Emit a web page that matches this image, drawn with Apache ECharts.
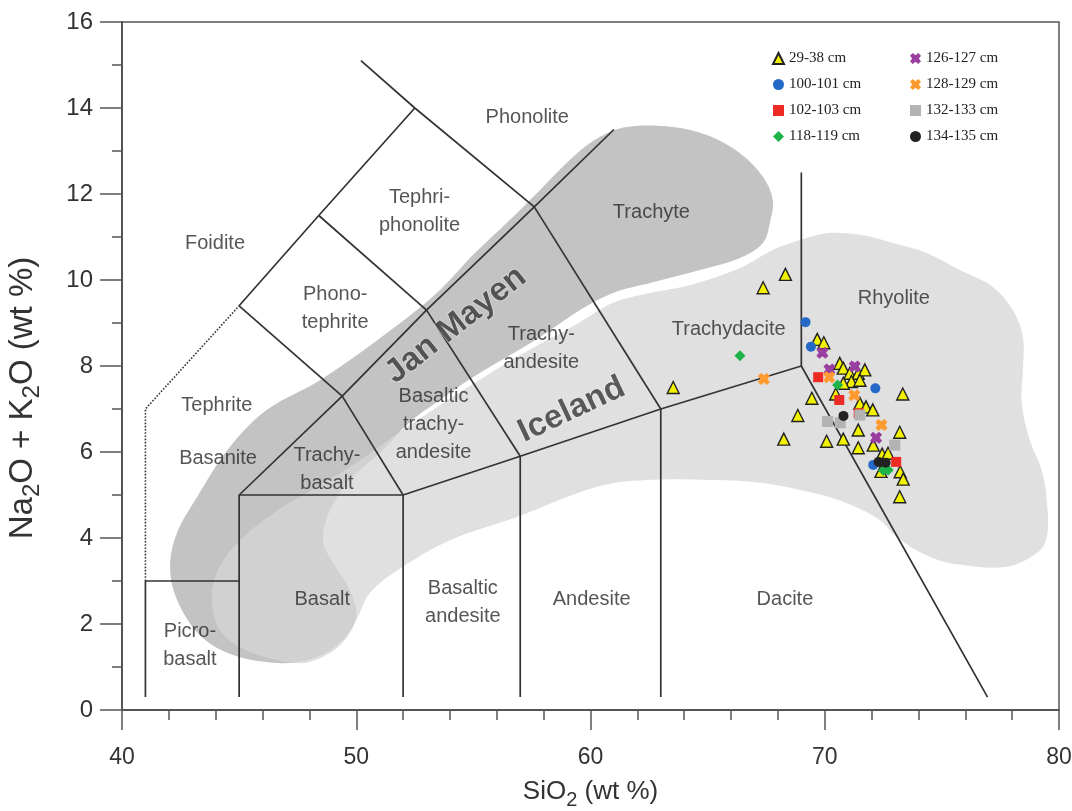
<!DOCTYPE html>
<html>
<head>
<meta charset="utf-8">
<script src="https://cdn.jsdelivr.net/npm/echarts@6/dist/echarts.min.js"></script>
<style>
  html, body { margin: 0; padding: 0; background: #fff; }
  #chart { width: 1072px; height: 811px; }
</style>
</head>
<body>
<div id="chart"></div>
<script>
// ---- Total alkali vs. silica (TAS) classification, with tephra glass analyses ----

// Jan Mayen field outline [SiO2, Na2O+K2O]
const janMayenField = [
  [42.05,3.33],[42.35,4.12],[43.20,4.95],[44.61,6.12],[46.19,6.98],[48.45,7.67],[51.31,8.77],
  [53.44,9.70],[54.98,10.58],[56.43,11.33],[57.84,12.09],[59.25,12.86],[60.40,13.33],[61.55,13.56],
  [63.52,13.56],[64.97,13.37],[66.38,12.95],[67.36,12.40],[67.78,11.86],[67.66,11.33],[67.36,10.86],
  [66.38,10.51],[64.67,10.23],[62.54,9.93],[60.96,9.70],[59.55,9.30],[57.84,8.67],[56.43,8.21],
  [54.98,7.74],[53.57,7.21],[52.29,6.70],[51.14,6.05],[49.73,5.35],[48.88,4.65],[48.58,3.95],
  [49.01,3.42],[49.73,2.79],[49.99,2.16],[49.43,1.63],[48.32,1.23],[46.87,1.09],[44.74,1.28],
  [43.33,1.74],[42.35,2.56]
];

// Iceland field outline [SiO2, Na2O+K2O]
const icelandField = [
  [47.60,1.09],[45.46,1.35],[44.27,1.79],[43.84,2.49],[44.10,3.26],[45.04,3.95],[46.53,4.60],
  [48.45,5.23],[50.16,5.81],[51.87,6.47],[53.57,7.09],[54.98,7.58],[56.43,8.07],[57.84,8.51],
  [59.55,9.02],[60.96,9.47],[62.54,9.70],[64.24,9.88],[66.38,10.28],[67.78,10.70],[68.94,10.93],
  [70.09,11.09],[71.50,11.05],[72.91,10.86],[74.36,10.63],[75.77,10.23],[77.17,9.84],[78.03,9.30],
  [78.46,8.67],[78.46,7.91],[78.41,7.14],[78.75,6.28],[79.26,5.58],[79.48,4.88],[79.48,4.02],
  [79.05,3.65],[77.77,3.33],[75.89,3.37],[74.49,3.56],[73.08,4.02],[72.35,4.42],[70.94,4.81],
  [69.49,5.05],[67.36,5.28],[65.22,5.35],[62.41,5.35],[60.27,5.19],[56.86,4.49],[54.00,3.95],
  [51.99,3.33],[50.58,2.72],[50.07,2.16],[49.52,1.63],[48.66,1.26]
];

// TAS field boundaries (Le Bas et al. 1986)
const tasBoundaries = [
  [[41,0.3],[41,3],[45,3]],
  [[45,0.3],[45,5],[52,5]],
  [[52,0.3],[52,5],[57,5.9],[63,7],[69,8],[76.95,0.3]],
  [[57,0.3],[57,5.9]],
  [[63,0.3],[63,7]],
  [[69,8],[69,12.5]],
  [[45,5],[49.4,7.3],[53,9.3],[57.6,11.7],[61,13.5]],
  [[49.4,7.3],[52,5]],
  [[53,9.3],[57,5.9]],
  [[57.6,11.7],[63,7]],
  [[45,9.4],[49.4,7.3]],
  [[48.4,11.5],[53,9.3]],
  [[45,9.4],[48.4,11.5],[52.5,14]],
  [[50.2,15.1],[52.5,14],[57.6,11.7]]
];
const tasDotted = [[41,3],[41,7],[45,9.4]];

// Field names and their anchor points
const fieldNames = [
  'Phonolite','Tephri-\nphonolite','Foidite','Phono-\ntephrite','Tephrite','Basanite',
  'Trachy-\nbasalt','Basaltic\ntrachy-\nandesite','Trachy-\nandesite','Trachyte','Trachydacite',
  'Rhyolite','Basalt','Basaltic\nandesite','Andesite','Dacite','Picro-\nbasalt'
];
const fieldAnchors = [
  [57.3,13.77],[52.7,11.6],[43.97,10.86],[49.1,9.33],[44.05,7.09],[44.1,5.84],
  [48.75,5.6],[53.3,6.65],[57.9,8.4],[62.6,11.57],[65.9,8.84],
  [72.95,9.58],[48.55,2.56],[54.55,2.49],[60.05,2.56],[68.3,2.56],[42.9,1.49]
];

// Volcanic province names, their anchor points and text angle (degrees)
const provinceNames = ['Jan Mayen', 'Iceland'];
const provinceAnchors = [[54.25, 8.95], [59.2, 6.98]];
const provinceAngles = [38, 25];

// Tephra glass analyses by core depth [SiO2, Na2O+K2O]
const s29_38 = [
  [63.53,7.50],[67.37,9.82],[68.32,10.13],[68.85,6.85],[68.25,6.30],[69.45,7.25],[69.68,8.62],
  [69.96,8.54],[70.64,8.06],[70.79,7.95],[71.07,7.83],[71.43,7.83],[71.71,7.91],[71.14,7.64],
  [70.79,7.60],[71.50,7.67],[70.47,7.35],[71.50,7.13],[71.76,7.05],[72.05,6.98],[73.33,7.35],
  [73.20,6.46],[71.43,6.51],[70.08,6.25],[70.79,6.30],[71.43,6.10],[72.07,6.16],[72.45,5.95],
  [72.70,5.97],[72.40,5.55],[73.22,5.54],[73.35,5.37],[73.20,4.96]
];
const s100_101 = [[69.18,9.02],[69.41,8.45],[72.16,7.48],[72.07,5.70]];
const s102_103 = [[69.72,7.74],[70.62,7.21],[71.45,6.90],[73.05,5.77]];
const s118_119 = [[66.38,8.24],[70.55,7.56],[72.71,5.58],[72.50,5.57]];
const s126_127 = [[69.90,8.31],[70.20,7.92],[71.28,7.99],[72.19,6.33]];
const s128_129 = [[67.40,7.70],[70.19,7.74],[71.26,7.32],[72.42,6.63]];
const s132_133 = [[70.12,6.71],[70.66,6.68],[71.50,6.86],[72.99,6.16]];
const s134_135 = [[70.80,6.84],[72.30,5.77],[72.60,5.75]];

const FONT = "'Liberation Sans', Arial, Helvetica, sans-serif";
const SERIF = "'Liberation Serif', 'Times New Roman', serif";
const crossPath = 'path://M0,2 L2,0 L4,1.6 L6,0 L8,2 L6.4,4 L8,6 L6,8 L4,6.4 L2,8 L0,6 L1.6,4 Z';

function fieldSeries(points, fill, z) {
  return {
    type: 'custom', coordinateSystem: 'cartesian2d', silent: true, z: z,
    data: [[60, 8]],
    renderItem: function (params, api) {
      return {
        type: 'polygon',
        shape: { points: points.map(function (p) { return api.coord(p); }), smooth: 0.35 },
        style: { fill: fill }
      };
    }
  };
}

const boundarySeries = tasBoundaries.map(function (seg) {
  return {
    type: 'line', data: seg, symbol: 'none', silent: true, z: 3,
    lineStyle: { color: '#333', width: 1.7 }
  };
});
boundarySeries.push({
  type: 'line', data: tasDotted, symbol: 'none', silent: true, z: 3,
  lineStyle: { color: '#333', width: 1.6, type: 'dotted' }
});

function sampleSeries(name, data, symbol, size, color, border) {
  return {
    name: name, type: 'scatter', data: data, symbol: symbol, symbolSize: size, z: 6,
    itemStyle: { color: color, borderColor: border || color, borderWidth: border ? 1.4 : 0, opacity: 1 }
  };
}

const chart = echarts.init(document.getElementById('chart'), null, { renderer: 'canvas' });

const legendText = { fontFamily: SERIF, fontSize: 15, color: '#222' };
const xSubRich = { s: { fontSize: 20, fontFamily: FONT, color: '#333', verticalAlign: 'bottom', lineHeight: 36 } };
const ySubRich = { s: { fontSize: 24, fontFamily: FONT, color: '#333', verticalAlign: 'bottom', lineHeight: 42 } };

const option = {
  backgroundColor: '#fff',
  animation: false,
  grid: {
    left: 122, right: 13, top: 22, bottom: 101, outerBoundsMode: 'none',
    show: true, borderColor: '#555', borderWidth: 1.5, backgroundColor: 'transparent'
  },
  xAxis: {
    type: 'value', min: 40, max: 80, interval: 10,
    axisLine: { lineStyle: { color: '#555', width: 2 } },
    axisTick: { length: 20, lineStyle: { color: '#555', width: 1.5 } },
    minorTick: { show: true, splitNumber: 5, length: 10, lineStyle: { color: '#555', width: 1.5 } },
    splitLine: { show: false },
    axisLabel: { margin: 36, fontSize: 23, color: '#333', fontFamily: FONT },
    name: 'SiO{s|2} (wt %)', nameLocation: 'middle', nameGap: 64,
    nameTextStyle: { fontSize: 26, color: '#333', fontFamily: FONT, rich: xSubRich }
  },
  yAxis: {
    type: 'value', min: 0, max: 16, interval: 2,
    axisLine: { lineStyle: { color: '#555', width: 2 } },
    axisTick: { length: 22, lineStyle: { color: '#555', width: 1.5 } },
    minorTick: { show: true, splitNumber: 2, length: 10, lineStyle: { color: '#555', width: 1.5 } },
    splitLine: { show: false },
    axisLabel: { margin: 29, fontSize: 24, color: '#333', fontFamily: FONT },
    name: 'Na{s|2}O + K{s|2}O (wt %)', nameLocation: 'middle', nameGap: 78, nameRotate: 90,
    nameTextStyle: { fontSize: 33, color: '#333', fontFamily: FONT, padding: [0, 64, 0, 0], rich: ySubRich }
  },
  legend: [
    {
      data: ['29-38 cm', '100-101 cm', '102-103 cm', '118-119 cm'],
      orient: 'vertical', left: 767, top: 46, itemGap: 11, itemWidth: 11, itemHeight: 11,
      textStyle: legendText
    },
    {
      data: ['126-127 cm', '128-129 cm', '132-133 cm', '134-135 cm'],
      orient: 'vertical', left: 905, top: 46, itemGap: 11, itemWidth: 11, itemHeight: 11,
      textStyle: legendText
    }
  ],
  series: [
    fieldSeries(janMayenField, '#c3c3c3', 1),
    fieldSeries(icelandField, 'rgba(214,214,214,0.75)', 2)
  ].concat(boundarySeries).concat([
    {
      type: 'scatter', silent: true, z: 4, symbolSize: 1,
      itemStyle: { color: 'rgba(0,0,0,0)' },
      data: fieldAnchors.map(function (p, i) { return { name: fieldNames[i], value: p }; }),
      label: {
        show: true, position: 'inside', formatter: '{b}',
        fontSize: 20, lineHeight: 28, color: '#2b2b2b', fontFamily: FONT, align: 'center'
      }
    },
    {
      type: 'scatter', silent: true, z: 4, symbolSize: 1,
      itemStyle: { color: 'rgba(0,0,0,0)' },
      data: provinceAnchors.map(function (p, i) {
        return { name: provinceNames[i], value: p, label: { rotate: provinceAngles[i] } };
      }),
      label: {
        show: true, position: 'inside', formatter: '{b}',
        fontSize: 33, fontWeight: 'bold', color: '#363636',
        fontFamily: "'Liberation Sans Narrow', 'Liberation Sans', Arial, sans-serif",
        textBorderColor: 'rgba(255,255,255,0.55)', textBorderWidth: 1.5
      }
    },
    sampleSeries('29-38 cm', s29_38, 'triangle', 12, '#f2f200', '#222'),
    sampleSeries('100-101 cm', s100_101, 'circle', 10, '#2468c8'),
    sampleSeries('102-103 cm', s102_103, 'rect', 10, '#ee2a24'),
    sampleSeries('118-119 cm', s118_119, 'diamond', 11, '#1db34a'),
    sampleSeries('126-127 cm', s126_127, crossPath, 12, '#9a3fa0'),
    sampleSeries('128-129 cm', s128_129, crossPath, 12, '#ff9a30'),
    sampleSeries('132-133 cm', s132_133, 'rect', 11, '#b3b3b3'),
    sampleSeries('134-135 cm', s134_135, 'circle', 10, '#222')
  ])
};

chart.setOption(option);
</script>
</body>
</html>
